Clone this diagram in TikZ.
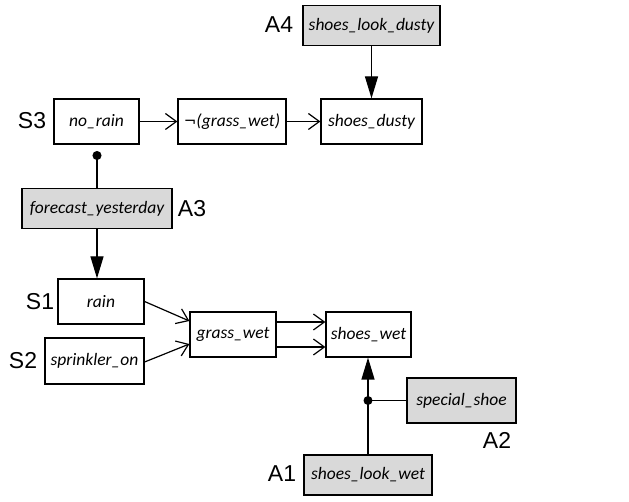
\documentclass[tikz,border=0pt]{standalone}
\usepackage{fontspec}
\setmainfont{Liberation Sans}
\newfontfamily\boxfont{Carlito}
\usetikzlibrary{arrows.meta}
\definecolor{boxgray}{HTML}{D9D9D9}
\begin{document}
\begin{tikzpicture}[x=1pt,y=-1pt,
  box/.style={draw=black,line width=1.2pt,inner sep=0pt,
    font=\boxfont\itshape\fontsize{17.5}{20}\selectfont},
  wbox/.style={box,fill=white,minimum height=45pt},
  gbox/.style={box,fill=boxgray,minimum height=39.5pt},
  lab/.style={font=\fontsize{23}{26}\selectfont,inner sep=0pt},
  conn/.style={line width=1.2pt},
  openarr/.style={conn,-{Straight Barb[length=11pt,width=16pt,line width=1.2pt]}},
  triarr/.style={conn,-{Triangle[length=22pt,width=13pt]}},
  dotarr/.style={conn,-{Circle[length=9pt,width=9pt]}}]
\useasboundingbox (0,0) rectangle (629,502);
% nodes
\node[gbox,minimum width=137pt] (sld) at (371.5,25.5) {shoes\_look\_dusty};
\node[wbox,minimum width=101pt] (sd) at (371.5,121.5) {shoes\_dusty};
\node[wbox,minimum width=85pt] (nr) at (96.5,121.5) {no\_rain};
\node[wbox,minimum width=108pt] (ngw) at (232,121.5) {{\fontspec{DejaVu Sans}\upshape\fontsize{15}{18}\selectfont ¬}(grass\_wet)};
\node[gbox,minimum width=150pt] (fy) at (97,208.5) {forecast\_yesterday};
\node[wbox,minimum width=86pt] (rain) at (101,301.5) {rain};
\node[wbox,minimum width=99pt,minimum height=46pt] (sp) at (94.5,361) {sprinkler\_on};
\node[wbox,minimum width=86pt] (gw) at (233,334.5) {grass\_wet};
\node[wbox,minimum width=85pt] (sw) at (368.5,334.5) {shoes\_wet};
\node[gbox,minimum width=109pt,minimum height=45pt] (ss) at (461.5,400.5) {special\_shoe};
\node[gbox,minimum width=128pt,minimum height=40pt] (slw) at (368,475) {shoes\_look\_wet};
% labels
\node[lab] (lA4) at (279,25) {A4};
\node[lab] (lS3) at (32,121) {S3};
\node[lab] (lA3) at (192,209) {A3};
\node[lab] (lS1) at (40,302) {S1};
\node[lab] (lS2) at (23,361) {S2};
\node[lab] (lA2) at (497,440) {A2};
\node[lab] (lA1) at (282,474) {A1};
% connectors
\draw[triarr] (sld.south) -- (sd.north);
\draw[openarr] (nr.east) -- (ngw.west);
\draw[openarr] (ngw.east) -- (sd.west);
\draw[dotarr] (fy.north) -- (fy.north |- {(0,151)});
\draw[triarr] (fy.south) -- (fy.south |- rain.north);
\draw[openarr] (rain.east) -- ([yshift=13.5pt]gw.west);
\draw[openarr] ([yshift=-1pt]sp.east) -- ([yshift=-9.5pt]gw.west);
\draw[openarr] ([yshift=12.5pt]gw.east) -- ([yshift=12.5pt]sw.west);
\draw[openarr] ([yshift=-12.5pt]gw.east) -- ([yshift=-12.5pt]sw.west);
\coordinate (j) at (slw.north |- ss.west);
\draw[triarr] (slw.north) -- (slw.north |- sw.south);
\draw[conn] (j) -- (ss.west);
\fill (j) circle (4.5pt);
\end{tikzpicture}
\end{document}
